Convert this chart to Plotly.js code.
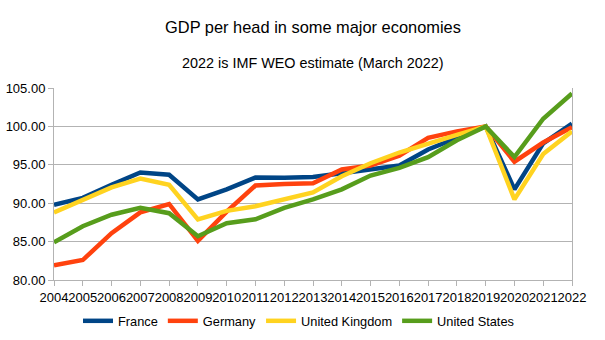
<!DOCTYPE html>
<html>
<head>
<meta charset="utf-8">
<script src="https://cdn.plot.ly/plotly-3.0.1.min.js"></script>
<style>html,body{margin:0;padding:0;background:#fff;}#chart{width:605px;height:340px;}</style>
</head>
<body>
<div id="chart"></div>
<script>
const years = ['2004','2005','2006','2007','2008','2009','2010','2011','2012','2013','2014','2015','2016','2017','2018','2019','2020','2021','2022'];
const france = [89.8, 90.7, 92.4, 94.0, 93.7, 90.5, 91.8, 93.35, 93.3, 93.4, 93.9, 94.45, 94.9, 97.0, 98.5, 100.0, 91.8, 97.8, 100.35];
const germany = [81.9, 82.6, 86.1, 88.8, 89.9, 85.1, 88.9, 92.3, 92.5, 92.6, 94.4, 94.9, 96.2, 98.5, 99.35, 100.0, 95.4, 97.9, 99.9];
const uk = [88.8, 90.4, 92.06, 93.2, 92.4, 87.9, 89.0, 89.6, 90.5, 91.4, 93.5, 95.2, 96.6, 97.8, 98.9, 100.0, 90.5, 96.4, 99.35];
const us = [84.9, 87.0, 88.5, 89.4, 88.7, 85.7, 87.4, 87.9, 89.4, 90.5, 91.8, 93.6, 94.6, 96.0, 98.2, 100.0, 96.0, 101.0, 104.3];
const names = ['France', 'Germany', 'United Kingdom', 'United States'];
const colors = ['#004586', '#ff420e', '#ffd320', '#579d1c'];
const series = [france, germany, uk, us];

const traces = series.map((s, i) => ({
  x: years, y: s, type: 'scatter', mode: 'lines', name: names[i],
  line: {color: colors[i], width: 4.5}
}));

const layout = {
  width: 605, height: 340,
  margin: {l: 54, r: 33, t: 88, b: 60, autoexpand: false},
  paper_bgcolor: '#fff', plot_bgcolor: '#fff',
  font: {family: 'Liberation Sans, Arial, sans-serif', size: 13, color: '#000'},
  title: {text: 'GDP per head in some major economies', font: {size: 16.4, color: '#000'}, x: 0.5, xref: 'paper', y: 1 - 27/340, yanchor: 'middle'},
  annotations: [{text: '2022 is IMF WEO estimate (March 2022)', xref: 'paper', yref: 'paper', x: 0.5, y: (280-63)/192, xanchor: 'center', yanchor: 'middle', showarrow: false, font: {size: 14.4, color: '#000'}}],
  xaxis: {type: 'category', range: [0, 18], showgrid: false, showline: true, linecolor: '#b3b3b3', linewidth: 1, ticks: 'outside', ticklen: 5, tickcolor: '#b3b3b3', tickfont: {size: 13}, tickangle: 0, zeroline: false, fixedrange: true, automargin: false},
  yaxis: {range: [80, 105], dtick: 5, tickformat: '.2f', showgrid: true, gridcolor: '#b3b3b3', showline: true, mirror: true, linecolor: '#b3b3b3', ticks: 'outside', ticklen: 5, tickcolor: '#b3b3b3', tickfont: {size: 13}, zeroline: false, fixedrange: true, automargin: false},
  showlegend: true,
  legend: {orientation: 'h', x: 0.472, xanchor: 'center', y: (280-321)/192, yanchor: 'middle', font: {size: 12.8}, itemwidth: 30, bgcolor: 'rgba(0,0,0,0)'}
};

Plotly.newPlot('chart', traces, layout, {staticPlot: true, displayModeBar: false});
</script>
</body>
</html>
